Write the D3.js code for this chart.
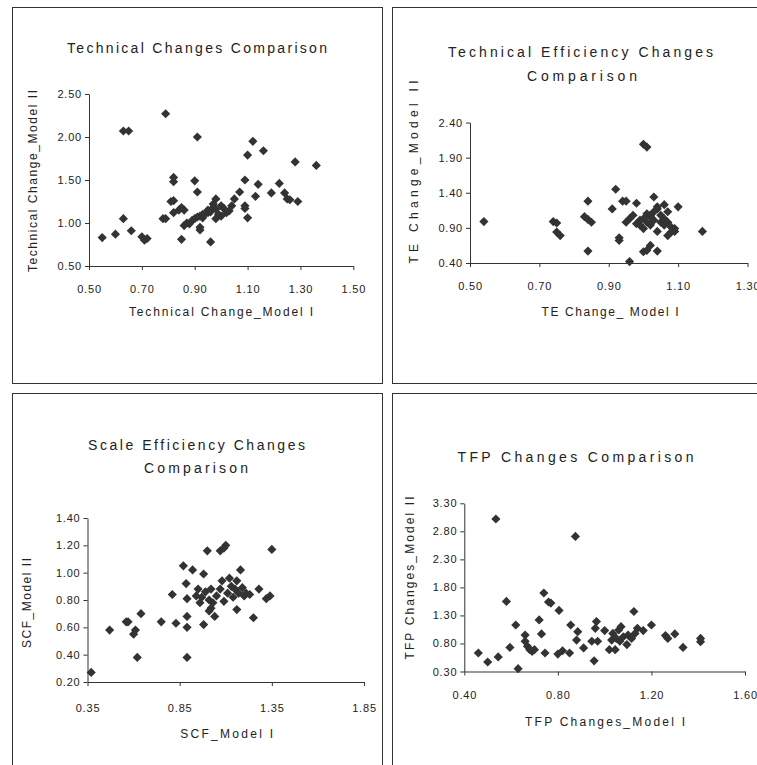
<!DOCTYPE html>
<html>
<head>
  <meta charset="utf-8">
  <title>Model I vs Model II comparisons</title>
  <script src="https://d3js.org/d3.v7.min.js"></script>
  <style>
    body { margin: 0; background: #fff; }
    .frame { fill: #fff; stroke: #333; stroke-width: 1; }
    .axis .domain, .axis .tick line { stroke: #333; }
    .axis .tick text { font-family: "Liberation Sans", Arial, sans-serif; font-size: 11px; fill: #222; letter-spacing: 0.8px; }
    .title { font-family: "Liberation Sans", Arial, sans-serif; font-size: 14px; fill: #222; }
    .axtitle { font-family: "Liberation Sans", Arial, sans-serif; font-size: 12px; fill: #222; }
    .dot { fill: #333; }
  </style>
</head>
<body>
<div id="chart"></div>
<script>
  // Technical change
  const tcModel1 = [0.55,0.60,0.63,0.66,0.63,0.65,0.70,0.71,0.72,0.79,0.78,0.79,0.81,0.82,0.82,0.82,0.82,0.84,0.85,0.86,
    0.85,0.86,0.87,0.88,0.89,0.90,0.91,0.91,0.92,0.92,0.90,0.91,0.92,0.93,0.93,0.94,0.95,0.95,0.96,0.96,
    0.97,0.97,0.98,0.98,0.98,0.99,1.00,1.00,1.01,1.02,1.03,1.04,1.05,1.07,1.09,1.09,1.09,1.10,1.10,1.12,
    1.13,1.14,1.16,1.19,1.22,1.24,1.25,1.26,1.28,1.29,1.36]
  const tcModel2 = [0.83,0.87,1.05,0.91,2.07,2.07,0.84,0.80,0.82,2.27,1.05,1.05,1.25,1.26,1.53,1.48,1.12,1.15,1.18,1.15,
    0.81,0.97,1.00,0.99,1.03,1.49,1.36,2.00,0.95,0.92,1.05,1.07,1.08,1.06,1.10,1.11,1.12,1.15,1.13,0.78,
    1.18,1.22,1.28,1.16,1.05,1.10,1.20,1.08,1.17,1.12,1.14,1.20,1.28,1.36,1.50,1.20,1.17,1.79,1.06,1.95,
    1.31,1.45,1.84,1.35,1.46,1.35,1.28,1.27,1.71,1.25,1.67]
  const tcTicksX = [0.50,0.70,0.90,1.10,1.30,1.50]
  const tcTicksY = [0.50,1.00,1.50,2.00,2.50]

  // Technical efficiency change
  const teModel1 = [0.54,0.74,0.75,0.75,0.76,0.84,0.83,0.84,0.85,0.84,0.91,0.92,0.93,0.93,0.94,0.95,0.96,0.98,1.00,1.01,
    1.00,1.01,1.02,1.04,1.03,1.06,1.07,1.10,1.04,1.07,1.09,1.17,
    0.95,0.96,0.97,0.98,0.99,0.99,1.00,1.00,1.01,1.01,1.02,1.02,1.02,1.03,1.03,1.04,1.04,1.05,1.05,1.06,
    1.06,1.07,1.08,1.08,1.09]
  const teModel2 = [0.99,0.99,0.97,0.84,0.79,1.28,1.06,1.02,0.98,0.57,1.17,1.45,0.72,0.76,1.28,1.28,0.42,1.25,2.09,2.05,
    0.56,0.58,0.65,0.57,1.34,1.23,1.13,1.20,0.85,0.79,0.85,0.85,
    0.98,1.03,1.08,0.96,1.01,0.94,0.89,1.03,1.10,0.98,1.06,0.94,1.08,1.01,1.13,1.17,1.20,1.08,0.98,1.03,
    0.94,0.98,0.91,0.84,0.89]
  const teTicksX = [0.50,0.70,0.90,1.10,1.30]
  const teTicksY = [0.40,0.90,1.40,1.90,2.40]

  // Scale efficiency change
  const scfModel1 = [0.37,0.47,0.56,0.57,0.60,0.61,0.62,0.64,0.75,0.81,0.83,0.87,0.885,0.89,0.89,0.89,0.89,0.92,0.98,0.98,
    1.00,1.07,1.09,1.10,1.01,1.04,1.18,1.16,1.25,1.28,1.32,1.34,1.35,
    0.95,0.97,0.99,1.01,1.02,1.03,1.05,1.07,1.08,1.09,1.11,1.12,1.13,1.14,1.15,1.16,1.17,1.19,1.20,1.21,
    1.23,1.02,0.94,0.96]
  const scfModel2 = [0.27,0.58,0.64,0.64,0.55,0.58,0.38,0.70,0.64,0.84,0.63,1.05,0.92,0.81,0.68,0.60,0.38,1.02,0.99,0.62,
    1.16,1.16,1.18,1.20,0.72,0.68,1.02,0.73,0.67,0.88,0.81,0.83,1.17,
    0.88,0.82,0.86,0.80,0.88,0.78,0.83,0.88,0.94,0.79,0.85,0.96,0.90,0.82,0.88,0.94,0.85,0.89,0.83,0.85,
    0.84,0.74,0.83,0.78]
  const scfTicksX = [0.35,0.85,1.35,1.85]
  const scfTicksY = [0.20,0.40,0.60,0.80,1.00,1.20,1.40]

  // TFP change
  const tfpModel1 = [0.46,0.50,0.545,0.535,0.58,0.595,0.62,0.63,0.66,0.66,0.67,0.68,0.69,0.70,0.72,0.73,0.74,0.745,0.76,0.77,
    0.805,0.80,0.82,0.85,0.855,0.875,0.88,0.885,0.91,0.945,0.955,0.96,0.965,0.97,1.00,1.02,1.03,1.035,1.045,1.05,
    1.06,1.065,1.07,1.08,1.095,1.10,1.115,1.125,1.13,1.14,1.165,1.20,1.26,1.27,1.30,1.335,1.41,1.41]
  const tfpModel2 = [0.63,0.47,0.56,3.02,1.55,0.73,1.13,0.35,0.95,0.84,0.75,0.69,0.66,0.69,1.22,0.97,1.70,0.63,1.54,1.52,
    1.39,0.61,0.67,0.63,1.13,2.71,0.86,1.01,0.72,0.84,0.49,1.07,1.19,0.84,1.03,0.69,0.86,0.98,0.69,0.89,
    1.04,0.84,1.10,0.92,0.78,0.95,0.89,1.37,0.98,1.07,1.03,1.13,0.94,0.89,0.97,0.73,0.89,0.83]
  const tfpTicksX = [0.40,0.80,1.20,1.60]
  const tfpTicksY = [0.30,0.80,1.30,1.80,2.30,2.80,3.30]

  const W = 757, H = 765

  const svg = d3.select('#chart').append('svg')
    .attr('width', W)
    .attr('height', H)

  // layout of the four charts
  const panels = [
    {
      box: [12.5, 7.5, 370, 376], xs: tcModel1, ys: tcModel2, xt: tcTicksX, yt: tcTicksY,
      xr: [89, 353.3], yr: [266, 94],
      title: [['Technical Changes Comparison', 197, 53, 260]],
      xTitle: ['Technical Change_Model I', 221, 316, 184],
      yTitle: ['Technical Change_Model II', 37, 181, 182],
      xLabY: 289
    },
    {
      box: [392.5, 7.5, 400, 376], xs: teModel1, ys: teModel2, xt: teTicksX, yt: teTicksY,
      xr: [470, 747.5], yr: [263, 122.5],
      title: [['Technical Efficiency Changes', 580.5, 56.5, 265], ['Comparison', 582, 81, 110]],
      xTitle: ['TE Change_ Model I', 610, 316, 137],
      yTitle: ['TE Change_Model II', 417.5, 172, 183],
      xLabY: 285.5
    },
    {
      box: [12.5, 393.5, 370, 400], xs: scfModel1, ys: scfModel2, xt: scfTicksX, yt: scfTicksY,
      xr: [87.5, 364], yr: [682, 518],
      title: [['Scale Efficiency Changes', 196.5, 450, 217], ['Comparison', 196, 473, 104]],
      xTitle: ['SCF_Model I', 226.7, 738, 93],
      yTitle: ['SCF_Model II', 31, 603, 90],
      xLabY: 708
    },
    {
      box: [392.5, 393.5, 400, 400], xs: tfpModel1, ys: tfpModel2, xt: tfpTicksX, yt: tfpTicksY,
      xr: [464.3, 745], yr: [671.5, 503.3],
      title: [['TFP Changes Comparison', 575.5, 461.5, 236]],
      xTitle: ['TFP Changes_Model I', 605, 725.5, 160],
      yTitle: ['TFP Changes_Model II', 413.5, 578, 163],
      xLabY: 695
    }
  ]

  const fmt = d3.format('.2f')
  const marker = d3.symbol().type(d3.symbolSquare).size(42)

  panels.forEach(function(p) {
    svg.append('rect')
      .attr('class', 'frame')
      .attr('x', p.box[0])
      .attr('y', p.box[1])
      .attr('width', p.box[2])
      .attr('height', p.box[3])

    const xScale = d3.scaleLinear()
      .domain([p.xt[0], p.xt[p.xt.length - 1]])
      .range(p.xr)
    const yScale = d3.scaleLinear()
      .domain([p.yt[0], p.yt[p.yt.length - 1]])
      .range(p.yr)

    // x axis
    const gx = svg.append('g')
      .attr('class', 'axis')
      .attr('transform', `translate(0,${p.yr[0]})`)
      .call(d3.axisBottom(xScale).tickValues(p.xt).tickFormat(fmt).tickSize(4).tickSizeOuter(0))
    gx.selectAll('.tick text')
      .attr('y', 0)
      .attr('dy', null)
      .attr('transform', `translate(0,${p.xLabY - p.yr[0] + 4})`)

    // y axis
    svg.append('g')
      .attr('class', 'axis')
      .attr('transform', `translate(${p.xr[0]},0)`)
      .call(d3.axisLeft(yScale).tickValues(p.yt).tickFormat(fmt).tickSize(4).tickSizeOuter(0))

    // titles
    p.title.forEach(function(t) {
      svg.append('text')
        .attr('class', 'title')
        .attr('x', t[1])
        .attr('y', t[2])
        .attr('text-anchor', 'middle')
        .attr('textLength', t[3])
        .attr('lengthAdjust', 'spacing')
        .text(t[0])
    })

    svg.append('text')
      .attr('class', 'axtitle')
      .attr('x', p.xTitle[1])
      .attr('y', p.xTitle[2])
      .attr('text-anchor', 'middle')
      .attr('textLength', p.xTitle[3])
      .attr('lengthAdjust', 'spacing')
      .text(p.xTitle[0])

    svg.append('text')
      .attr('class', 'axtitle')
      .attr('transform', `translate(${p.yTitle[1]},${p.yTitle[2]}) rotate(-90)`)
      .attr('text-anchor', 'middle')
      .attr('textLength', p.yTitle[3])
      .attr('lengthAdjust', 'spacing')
      .text(p.yTitle[0])

    // points
    svg.append('g')
      .selectAll('path')
      .data(p.xs.map((d, i) => [d, p.ys[i]]))
      .enter()
      .append('path')
      .attr('class', 'dot')
      .attr('d', marker)
      .attr('transform', d => `translate(${xScale(d[0])},${yScale(d[1])}) rotate(45)`)
  })
</script>
</body>
</html>
